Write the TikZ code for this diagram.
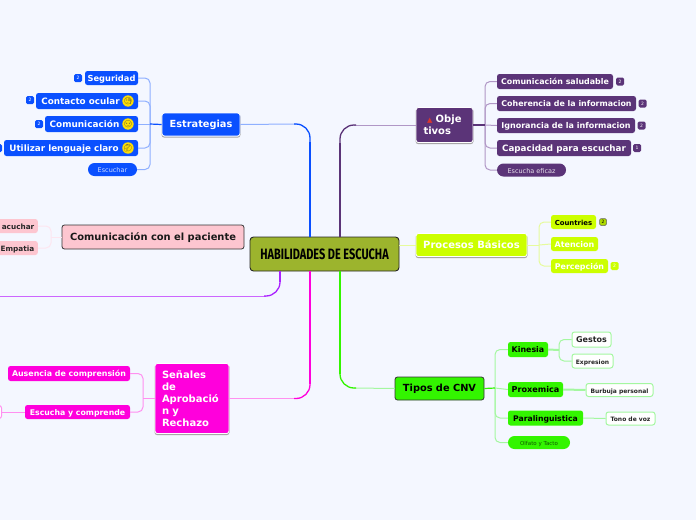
\documentclass[tikz,border=0pt]{standalone}
\usepackage{fontspec}
\setmainfont{DejaVu Sans}
\newfontfamily\titlefont{Fira Sans}
\newfontfamily\emojifont{Noto Emoji}
\definecolor{bgc}{HTML}{F4F7FF}
\definecolor{blueN}{HTML}{0A50FF}
\definecolor{blueL}{HTML}{8FB0FF}
\definecolor{pinkN}{HTML}{FDC6D0}
\definecolor{pinkL}{HTML}{FDE6F0}
\definecolor{magN}{HTML}{FF00DC}
\definecolor{magL}{HTML}{FF90F0}
\definecolor{purN}{HTML}{5B3478}
\definecolor{purL}{HTML}{B097C6}
\definecolor{limeN}{HTML}{CCFF00}
\definecolor{limeL}{HTML}{E6FB9C}
\definecolor{grnN}{HTML}{33F500}
\definecolor{grnL}{HTML}{A4F7A0}
\definecolor{olive}{HTML}{9CB42D}
\definecolor{violN}{HTML}{AA22FF}
\definecolor{violL}{HTML}{CC66FF}
\definecolor{triR}{HTML}{D8362F}
\tikzset{
 x=1pt,y=-1pt,
 box/.style={rectangle,rounded corners=2.5pt,inner sep=0pt,align=center,text height=.74em,text depth=.12em,font=\bfseries\fontsize{8.5}{10}\selectfont},
 pill/.style={box,rounded corners=6.5pt,font=\fontsize{6.5}{8}\selectfont},
 badge/.style={rectangle,rounded corners=1.5pt,inner sep=0pt,minimum width=8pt,minimum height=8pt,font=\fontsize{4.5}{5}\selectfont,text=white},
 emo/.style={circle,fill=yellow!80!orange,inner sep=0pt,minimum size=10pt,text=black!75,font=\emojifont\fontsize{7}{8}\selectfont},
 main/.style={box,font=\bfseries\fontsize{10}{12}\selectfont,draw=white,line width=.8pt},
 multi/.style={text height=,text depth=,align=left},
 shadowed/.style={preaction={draw=black!35,line width=1pt,transform canvas={yshift=-1.2pt}}},
 blink/.style={blueL,line width=1pt,rounded corners=5pt},
 plink/.style={purL,line width=1pt,rounded corners=5pt},
 llink/.style={limeL,line width=1pt,rounded corners=5pt},
 glink/.style={grnL,line width=1pt,rounded corners=5pt},
 mlink/.style={magL,line width=1pt,rounded corners=5pt},
 klink/.style={pinkL,line width=1pt,rounded corners=5pt},
 curveA/.style={line width=1.3pt,rounded corners=14pt},
 lightA/.style={line width=1pt},
 thickA/.style={line width=2.6pt},
}
\begin{document}
\begin{tikzpicture}
\useasboundingbox (0,0) rectangle (696,520);
\fill[bgc] (0,0) rectangle (696,520);
% junctions
\coordinate (jS) at (150,124);
\coordinate (jK) at (51,237);
\coordinate (jM) at (143,398.5);
\coordinate (jO) at (485,125);
\coordinate (jP) at (539,245);
\coordinate (jT) at (495,388);
\coordinate (jKi) at (559,350);
% central anchors
\coordinate (c1) at (310,237);
\coordinate (c2) at (340,237);
\coordinate (c3) at (280,271);
\coordinate (c4) at (310,271);
\coordinate (c5) at (340,271);
\coordinate (free1) at (0,296);
% top-level nodes
\node[main,shadowed,fill=blueN,text=white,font=\bfseries\fontsize{9.8}{12}\selectfont,minimum width=78pt,minimum height=23pt] (est) at (201,124.5) {Estrategias};
\node[box,fill=pinkN,draw=black!80,line width=.8pt,text=black!90,font=\bfseries\fontsize{9.9}{12}\selectfont,minimum width=182pt,minimum height=24pt] (com) at (153,237) {Comunicación con el paciente};
\node[main,shadowed,multi,fill=magN,text=white,minimum width=74pt,minimum height=70pt,text width=60pt] (sen) at (192,398.5) {Señales\\de\\Aprobació\\n y\\Rechazo};
\node[main,shadowed,multi,fill=purN,text=white,minimum width=57pt,minimum height=35pt,text width=42pt] (obj) at (444.5,125) {\hspace*{3.5pt}{\color{triR}\fontsize{7}{8}\selectfont▲} Obje\\tivos};
\node[main,shadowed,fill=limeN,text=white,minimum width=111pt,minimum height=23pt] (pro) at (471.5,245) {Procesos Básicos};
\node[box,fill=grnN,draw=black!80,line width=.8pt,text=black,font=\bfseries\fontsize{9.8}{12}\selectfont,minimum width=89pt,minimum height=23pt] (tip) at (439.5,388.5) {Tipos de CNV};
\node[box,multi,align=center,fill=olive,draw=black!85,line width=.9pt,minimum width=149pt,minimum height=34pt,rounded corners=3.5pt] (cen) at (324.5,254) {\titlefont\bfseries\fontsize{15}{17}\selectfont\scalebox{.73}[1]{HABILIDADES DE ESCUCHA}};
% blue children
\node[box,fill=blueN,text=white,font=\bfseries\fontsize{8.3}{10}\selectfont,minimum width=53pt,minimum height=14pt] (s1) at (111.5,78) {Seguridad};
\node[box,fill=blueN,text=white,font=\bfseries\fontsize{8.8}{10}\selectfont,minimum width=102pt,minimum height=16pt] (s2) at (87,101) {\hspace*{-13pt}Contacto ocular};
\node[box,fill=blueN,text=white,font=\bfseries\fontsize{8.9}{10}\selectfont,minimum width=93pt,minimum height=16pt] (s3) at (91.5,124) {\hspace*{-14pt}Comunicación};
\node[box,fill=blueN,text=white,font=\bfseries\fontsize{8.8}{10}\selectfont,minimum width=134pt,minimum height=16pt] (s4) at (71,148) {\hspace*{-14pt}Utilizar lenguaje claro};
\node[pill,fill=blueN,text=white!80!blueN,minimum width=49pt,minimum height=13pt] (s5) at (112.5,169.5) {Escuchar};
\node[emo] (e2) at (128,101) {🧐};
\node[emo] (e3) at (128,124) {😏};
\node[emo] (e4) at (128,148) {🤔};
\node[badge,fill=blueN] (bs1) at (78,78) {2};
\node[badge,fill=blueN] (bs2) at (30,100) {2};
\node[badge,fill=blueN] (bs3) at (39,124) {2};
\node[badge,fill=blueN,minimum width=4pt] (bs4) at (0,148) {};
% pink children
\node[box,fill=pinkN,text=black!85,inner xsep=3.5pt,text width=36pt,align=right,minimum height=14pt,font=\bfseries\fontsize{7.3}{9}\selectfont,anchor=east] (k1) at (38,226) {acuchar};
\node[box,fill=pinkN,text=black!85,inner xsep=3.5pt,text width=36pt,align=right,minimum height=14pt,font=\bfseries\fontsize{7.3}{9}\selectfont,anchor=east] (k2) at (38,248) {Empatia};
% magenta children
\node[box,fill=magN,text=white,font=\bfseries\fontsize{7.9}{9}\selectfont,minimum width=122pt,minimum height=15pt] (m1) at (69,373.5) {Ausencia de comprensión};
\node[box,fill=magN,text=white,font=\bfseries\fontsize{7.8}{9}\selectfont,minimum width=105pt,minimum height=14pt] (m2) at (77.5,412) {Escucha y comprende};
\node[box,fill=white,draw=magL,line width=1pt,minimum width=6pt,minimum height=13pt,anchor=east] (m3) at (2,412) {};
% purple children
\node[box,fill=purN,text=white,font=\bfseries\fontsize{7.9}{9}\selectfont,minimum width=116pt,minimum height=15pt] (o1) at (555,81.5) {Comunicación saludable};
\node[box,fill=purN,text=white,font=\bfseries\fontsize{7.9}{9}\selectfont,minimum width=139pt,minimum height=15pt] (o2) at (566.5,103.5) {Coherencia de la informacion};
\node[box,fill=purN,text=white,font=\bfseries\fontsize{8}{9}\selectfont,minimum width=138pt,minimum height=15pt] (o3) at (566,125.5) {Ignorancia de la informacion};
\node[box,fill=purN,text=white,font=\bfseries\fontsize{8.75}{10}\selectfont,minimum width=134pt,minimum height=16pt] (o4) at (564,148) {Capacidad para escuchar};
\node[pill,fill=purN,text=white!85!purN,minimum width=69pt,minimum height=13pt] (o5) at (531.5,170) {Escucha eficaz};
\node[badge,fill=purN] (bo1) at (620,81.5) {2};
\node[badge,fill=purN] (bo2) at (642.5,103.5) {2};
\node[badge,fill=purN] (bo3) at (641.5,125.5) {2};
\node[badge,fill=purN] (bo4) at (637,148) {1};
% lime children
\node[box,fill=limeN,text=black,font=\bfseries\fontsize{6.9}{9}\selectfont,minimum width=45pt,minimum height=14pt] (p1) at (573.5,222) {Countries};
\node[box,fill=limeN,text=white,font=\bfseries\fontsize{8}{9}\selectfont,minimum width=47pt,minimum height=14pt] (p2) at (574.5,244) {Atencion};
\node[box,fill=limeN,text=white,font=\bfseries\fontsize{7.9}{9}\selectfont,minimum width=57pt,minimum height=14pt] (p3) at (579.5,266) {Percepción};
\node[badge,fill=limeN!85!black,draw=black!60,line width=.5pt,text=black,minimum width=7pt,minimum height=7pt] (bp1) at (603,222) {2};
\node[badge,fill=limeN] (bp3) at (614.5,266) {2};
% green children
\node[box,fill=grnN,text=black,font=\bfseries\fontsize{7.9}{10}\selectfont,minimum width=40pt,minimum height=15pt] (t1) at (528,349.5) {Kinesia};
\node[box,fill=grnN,text=black,font=\bfseries\fontsize{8.1}{10}\selectfont,minimum width=55pt,minimum height=15pt] (t2) at (535.5,389.5) {Proxemica};
\node[box,fill=grnN,text=black,font=\bfseries\fontsize{7.7}{10}\selectfont,minimum width=75pt,minimum height=15pt] (t3) at (545.5,418) {Paralinguistica};
\node[pill,fill=grnN,text=black!65!grnN,font=\fontsize{5.5}{7}\selectfont,minimum width=62pt,minimum height=13pt] (t4) at (539,442.5) {Olfato y Tacto};
\node[box,fill=white,draw=grnL,line width=1pt,text=black!85,font=\bfseries\fontsize{8}{10}\selectfont,minimum width=39pt,minimum height=15pt] (g1) at (591.5,339.5) {Gestos};
\node[box,fill=white,draw=grnL,line width=1pt,text=black!85,font=\bfseries\fontsize{6}{8}\selectfont,minimum width=41pt,minimum height=14pt] (g2) at (592.5,361) {Expresion};
\node[box,fill=white,draw=grnL,line width=1pt,text=black!85,font=\bfseries\fontsize{6}{8}\selectfont,minimum width=67pt,minimum height=13pt] (g3) at (619.5,390) {Burbuja personal};
\node[box,fill=white,draw=grnL,line width=1pt,text=black!85,font=\bfseries\fontsize{6}{8}\selectfont,minimum width=49pt,minimum height=13pt] (g4) at (630.5,418.5) {Tono de voz};
% connectors
\draw[blink] (jS) |- (s1.east);
\draw[blink] (jS) |- (s2.east);
\draw[blink] (jS) -- (s3.east);
\draw[blink] (jS) |- (s4.east);
\draw[blink] (jS) |- (s5.east);
\draw[blueN,line width=1.2pt] (est.west) -- (jS);
\draw[klink] (jK) |- (k1.east);
\draw[klink] (jK) |- (k2.east);
\draw[klink] (com.west) -- (jK);
\draw[mlink] (jM) |- (m1.east);
\draw[mlink] (jM) |- (m2.east);
\draw[mlink] (sen.west) -- (jM);
\draw[mlink] (m2.west) -- (m3.east);
\draw[plink] (jO) |- (o1.west);
\draw[plink] (jO) |- (o2.west);
\draw[plink] (jO) -- (o3.west);
\draw[plink] (jO) |- (o4.west);
\draw[plink] (jO) |- (o5.west);
\draw[purN,line width=1.2pt] (obj.east) -- (jO);
\draw[llink] (jP) |- (p1.west);
\draw[llink] (jP) -- (p2.west);
\draw[llink] (jP) |- (p3.west);
\draw[llink] (pro.east) -- (jP);
\draw[glink] (jT) |- (t1.west);
\draw[glink] (jT) -- (t2.west);
\draw[glink] (jT) |- (t3.west);
\draw[glink] (jT) |- (t4.west);
\draw[grnN,line width=1.2pt] (tip.east) -- (jT);
\draw[glink] (jKi) |- (g1.west);
\draw[glink] (jKi) |- (g2.west);
\draw[glink,line width=2pt] (t1.east) -- (jKi);
\draw[glink,line width=2pt] (t2.east) -- (g3.west);
\draw[glink] (t3.east) -- (g4.west);
\draw[llink] (cen.east |- pro) -- (pro.west);
% central links: light far end, saturated bend, thick trunk
\draw[blueL,lightA] (est.east) -- (296,124);
\draw[blueN,curveA] (c1) |- (294,124);
\draw[blueN,thickA] (c1) -- (310,142);
\draw[purL,lightA] (obj.west) -- (354,125);
\draw[purN,curveA] (c2) |- (356,125);
\draw[purN,thickA] (c2) -- (340,143);
\draw[violL,lightA] (free1) -- (266,296);
\draw[violN,curveA] (c3) |- (264,296);
\draw[violN,thickA] (c3) -- (280,282);
\draw[magL,lightA] (sen.east) -- (296,398.5);
\draw[magN,curveA] (c4) |- (294,398.5);
\draw[magN,thickA] (c4) -- (310,384);
\draw[grnL,lightA] (tip.west) -- (354,388);
\draw[grnN,curveA] (c5) |- (356,388);
\draw[grnN,thickA] (c5) -- (340,374);
\end{tikzpicture}
\end{document}
